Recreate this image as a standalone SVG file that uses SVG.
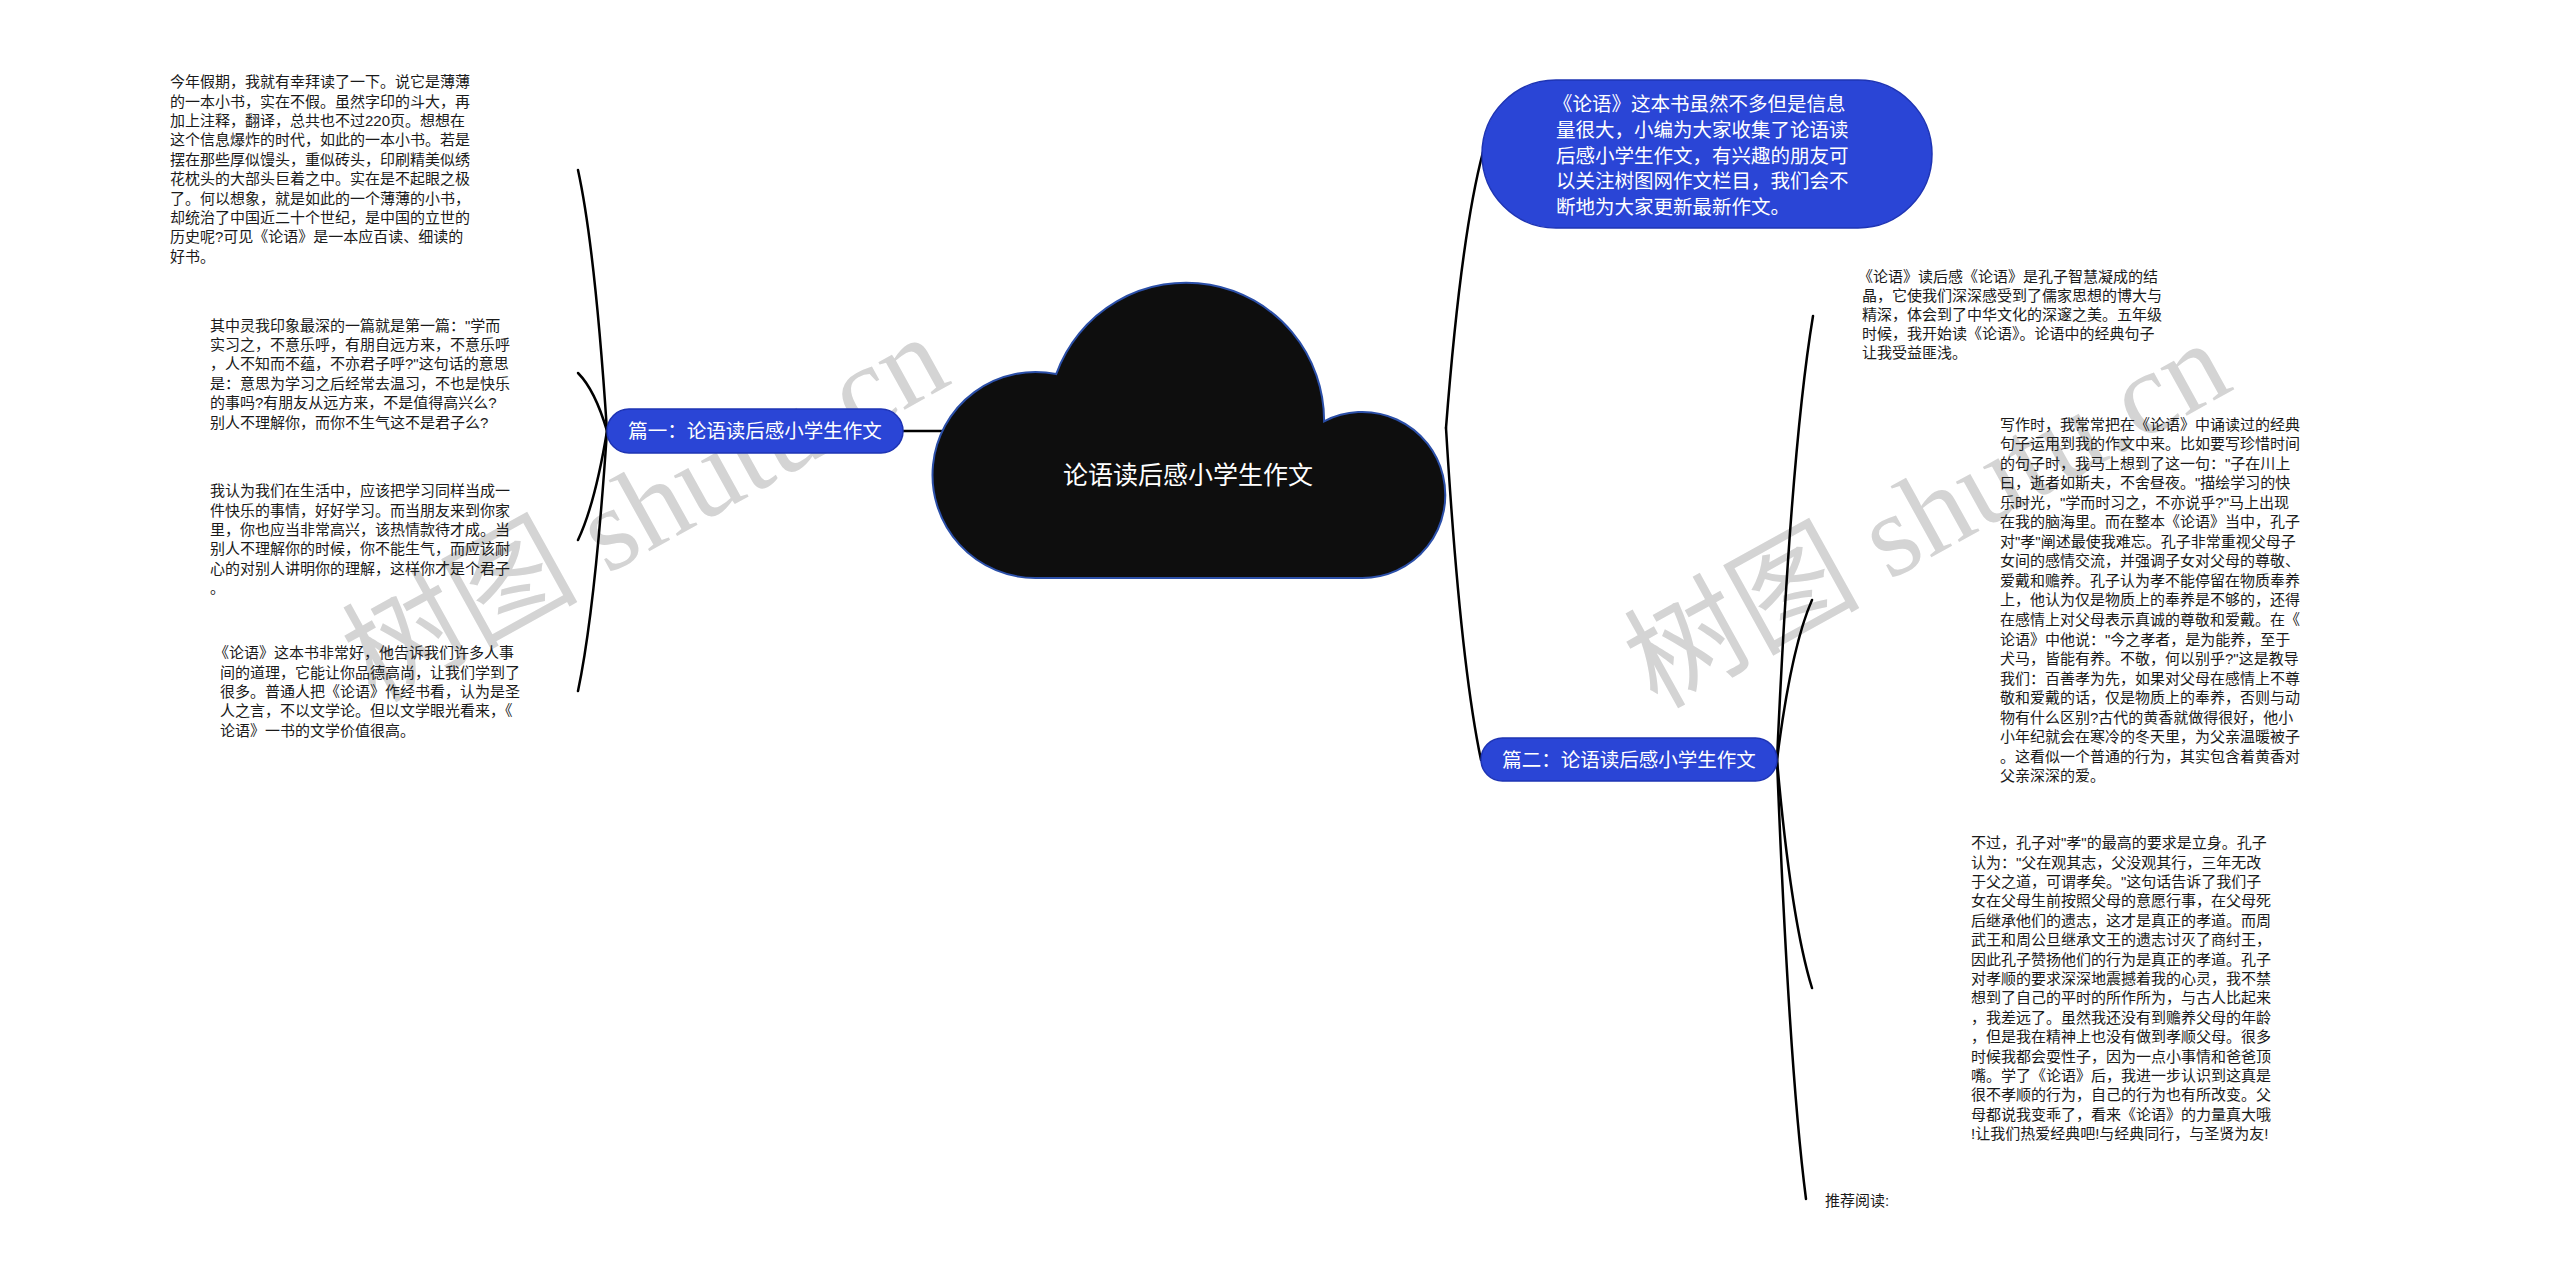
<svg xmlns="http://www.w3.org/2000/svg" width="2560" height="1283" viewBox="0 0 2560 1283">
<style>
.bg{fill:#ffffff}
.wm{font-family:"Liberation Serif","Noto Sans CJK SC",serif;font-size:118px;fill:#d4d4d4}
.t{font-family:"Liberation Sans","Noto Sans CJK SC",sans-serif;font-size:15px;fill:#1a1a1a}
.nt{font-family:"Liberation Sans","Noto Sans CJK SC",sans-serif;font-size:19.5px;fill:#ffffff}
.ct{font-family:"Liberation Sans","Noto Sans CJK SC",sans-serif;font-size:25px;fill:#ffffff}
.pill{fill:#2a45d6;stroke:#1e34b4;stroke-width:1.5}
.cloud{fill:#0e0e0e;stroke:#2b4fa8;stroke-width:2}
.edge{fill:none;stroke:#000000;stroke-width:2.5;stroke-linecap:round}
</style>
<rect class="bg" x="0" y="0" width="2560" height="1283"/>
<g id="watermarks">
<text class="wm" transform="translate(645,508) rotate(-29)" text-anchor="middle" y="40">树图 shutu.cn</text>
<text class="wm" transform="translate(1927,514) rotate(-29)" text-anchor="middle" y="40">树图 shutu.cn</text>
</g>
<g id="connectors">
<path class="edge" d="M903 431 L945 431"/>
<path class="edge" d="M607 431 Q595 248 578 170"/>
<path class="edge" d="M607 431 Q595 390 578 373"/>
<path class="edge" d="M607 431 Q595 504 578 540"/>
<path class="edge" d="M607 431 Q595 610 578 691"/>
<path class="edge" d="M1446 428 Q1461 235 1483 152"/>
<path class="edge" d="M1446 428 Q1460 660 1481 760"/>
<path class="edge" d="M1777 760 Q1791 449 1813 316"/>
<path class="edge" d="M1777 760 Q1791 648 1812 600"/>
<path class="edge" d="M1777 760 Q1791 920 1812 988"/>
<path class="edge" d="M1777 760 Q1789 1067 1806 1199"/>
</g>
<g id="center">
<path class="cloud" d="M1036 578 A103 103 0 1 1 1056.2 374.1 A138 138 0 0 1 1324.1 421.3 A83 83 0 1 1 1362 578 Z"/>
<text class="ct" x="1188" y="484" text-anchor="middle">论语读后感小学生作文</text>
</g>
<g id="intro">
<rect class="pill" x="1482" y="80" width="450" height="148" rx="74" ry="74"/>
<text class="nt"><tspan x="1553" y="111.3">《论语》这本书虽然不多但是信息</tspan><tspan x="1556" dy="25.6">量很大，小编为大家收集了论语读</tspan><tspan x="1556" dy="25.6">后感小学生作文，有兴趣的朋友可</tspan><tspan x="1556" dy="25.6">以关注树图网作文栏目，我们会不</tspan><tspan x="1556" dy="25.6">断地为大家更新最新作文。</tspan></text>
</g>
<g id="branch1">
<rect class="pill" x="607" y="409" width="296" height="44" rx="22" ry="22"/>
<text class="nt" x="755" y="438" text-anchor="middle">篇一：论语读后感小学生作文</text>
</g>
<g id="branch2">
<rect class="pill" x="1481" y="738" width="296" height="43" rx="21.5" ry="21.5"/>
<text class="nt" x="1629" y="766.5" text-anchor="middle">篇二：论语读后感小学生作文</text>
</g>
<g id="left1">
<text class="t"><tspan x="170" y="87.2">今年假期，我就有幸拜读了一下。说它是薄薄</tspan><tspan x="170" dy="19.4">的一本小书，实在不假。虽然字印的斗大，再</tspan><tspan x="170" dy="19.4">加上注释，翻译，总共也不过220页。想想在</tspan><tspan x="170" dy="19.4">这个信息爆炸的时代，如此的一本小书。若是</tspan><tspan x="170" dy="19.4">摆在那些厚似馒头，重似砖头，印刷精美似绣</tspan><tspan x="170" dy="19.4">花枕头的大部头巨着之中。实在是不起眼之极</tspan><tspan x="170" dy="19.4">了。何以想象，就是如此的一个薄薄的小书，</tspan><tspan x="170" dy="19.4">却统治了中国近二十个世纪，是中国的立世的</tspan><tspan x="170" dy="19.4">历史呢?可见《论语》是一本应百读、细读的</tspan><tspan x="170" dy="19.4">好书。</tspan></text>
</g>
<g id="left2">
<text class="t"><tspan x="210" y="330.5">其中灵我印象最深的一篇就是第一篇："学而</tspan><tspan x="210" dy="19.4">实习之，不意乐呼，有朋自远方来，不意乐呼</tspan><tspan x="210" dy="19.4">，人不知而不蕴，不亦君子呼?"这句话的意思</tspan><tspan x="210" dy="19.4">是：意思为学习之后经常去温习，不也是快乐</tspan><tspan x="210" dy="19.4">的事吗?有朋友从远方来，不是值得高兴么?</tspan><tspan x="210" dy="19.4">别人不理解你，而你不生气这不是君子么?</tspan></text>
</g>
<g id="left3">
<text class="t"><tspan x="210" y="496.2">我认为我们在生活中，应该把学习同样当成一</tspan><tspan x="210" dy="19.4">件快乐的事情，好好学习。而当朋友来到你家</tspan><tspan x="210" dy="19.4">里，你也应当非常高兴，该热情款待才成。当</tspan><tspan x="210" dy="19.4">别人不理解你的时候，你不能生气，而应该耐</tspan><tspan x="210" dy="19.4">心的对别人讲明你的理解，这样你才是个君子</tspan><tspan x="210" dy="19.4">。</tspan></text>
</g>
<g id="left4">
<text class="t"><tspan x="214" y="658.2">《论语》这本书非常好，他告诉我们许多人事</tspan><tspan x="220" dy="19.4">间的道理，它能让你品德高尚，让我们学到了</tspan><tspan x="220" dy="19.4">很多。普通人把《论语》作经书看，认为是圣</tspan><tspan x="220" dy="19.4">人之言，不以文学论。但以文学眼光看来，《</tspan><tspan x="220" dy="19.4">论语》一书的文学价值很高。</tspan></text>
</g>
<g id="right1">
<text class="t"><tspan x="1858" y="282.2">《论语》读后感《论语》是孔子智慧凝成的结</tspan><tspan x="1862" dy="19">晶，它使我们深深感受到了儒家思想的博大与</tspan><tspan x="1862" dy="19">精深，体会到了中华文化的深邃之美。五年级</tspan><tspan x="1862" dy="19">时候，我开始读《论语》。论语中的经典句子</tspan><tspan x="1862" dy="19">让我受益匪浅。</tspan></text>
</g>
<g id="right2">
<text class="t"><tspan x="2000" y="429.5">写作时，我常常把在《论语》中诵读过的经典</tspan><tspan x="2000" dy="19.55">句子运用到我的作文中来。比如要写珍惜时间</tspan><tspan x="2000" dy="19.55">的句子时，我马上想到了这一句："子在川上</tspan><tspan x="2000" dy="19.55">曰，逝者如斯夫，不舍昼夜。"描绘学习的快</tspan><tspan x="2000" dy="19.55">乐时光，"学而时习之，不亦说乎?"马上出现</tspan><tspan x="2000" dy="19.55">在我的脑海里。而在整本《论语》当中，孔子</tspan><tspan x="2000" dy="19.55">对"孝"阐述最使我难忘。孔子非常重视父母子</tspan><tspan x="2000" dy="19.55">女间的感情交流，并强调子女对父母的尊敬、</tspan><tspan x="2000" dy="19.55">爱戴和赡养。孔子认为孝不能停留在物质奉养</tspan><tspan x="2000" dy="19.55">上，他认为仅是物质上的奉养是不够的，还得</tspan><tspan x="2000" dy="19.55">在感情上对父母表示真诚的尊敬和爱戴。在《</tspan><tspan x="2000" dy="19.55">论语》中他说："今之孝者，是为能养，至于</tspan><tspan x="2000" dy="19.55">犬马，皆能有养。不敬，何以别乎?"这是教导</tspan><tspan x="2000" dy="19.55">我们：百善孝为先，如果对父母在感情上不尊</tspan><tspan x="2000" dy="19.55">敬和爱戴的话，仅是物质上的奉养，否则与动</tspan><tspan x="2000" dy="19.55">物有什么区别?古代的黄香就做得很好，他小</tspan><tspan x="2000" dy="19.55">小年纪就会在寒冷的冬天里，为父亲温暖被子</tspan><tspan x="2000" dy="19.55">。这看似一个普通的行为，其实包含着黄香对</tspan><tspan x="2000" dy="19.55">父亲深深的爱。</tspan></text>
</g>
<g id="right3">
<text class="t"><tspan x="1971" y="848.2">不过，孔子对"孝"的最高的要求是立身。孔子</tspan><tspan x="1971" dy="19.4">认为："父在观其志，父没观其行，三年无改</tspan><tspan x="1971" dy="19.4">于父之道，可谓孝矣。"这句话告诉了我们子</tspan><tspan x="1971" dy="19.4">女在父母生前按照父母的意愿行事，在父母死</tspan><tspan x="1971" dy="19.4">后继承他们的遗志，这才是真正的孝道。而周</tspan><tspan x="1971" dy="19.4">武王和周公旦继承文王的遗志讨灭了商纣王，</tspan><tspan x="1971" dy="19.4">因此孔子赞扬他们的行为是真正的孝道。孔子</tspan><tspan x="1971" dy="19.4">对孝顺的要求深深地震撼着我的心灵，我不禁</tspan><tspan x="1971" dy="19.4">想到了自己的平时的所作所为，与古人比起来</tspan><tspan x="1971" dy="19.4">，我差远了。虽然我还没有到赡养父母的年龄</tspan><tspan x="1971" dy="19.4">，但是我在精神上也没有做到孝顺父母。很多</tspan><tspan x="1971" dy="19.4">时候我都会耍性子，因为一点小事情和爸爸顶</tspan><tspan x="1971" dy="19.4">嘴。学了《论语》后，我进一步认识到这真是</tspan><tspan x="1971" dy="19.4">很不孝顺的行为，自己的行为也有所改变。父</tspan><tspan x="1971" dy="19.4">母都说我变乖了，看来《论语》的力量真大哦</tspan><tspan x="1971" dy="19.4">!让我们热爱经典吧!与经典同行，与圣贤为友!</tspan></text>
</g>
<g id="right4">
<text class="t" x="1825" y="1205.5">推荐阅读:</text>
</g>
</svg>
